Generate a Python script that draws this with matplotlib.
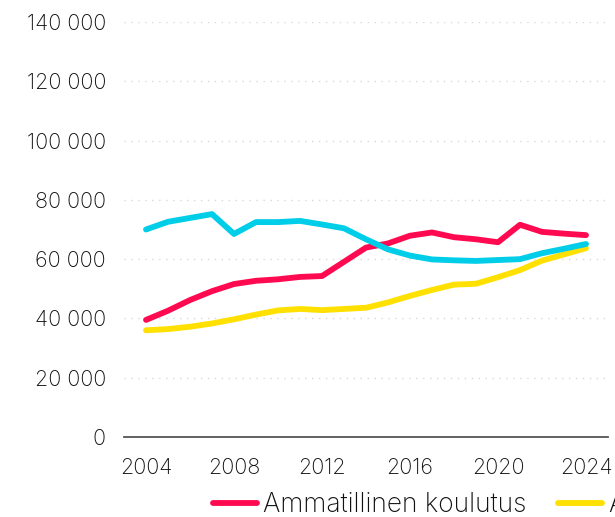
import numpy as np
import matplotlib
matplotlib.use("Agg")
from matplotlib import pyplot as plt

# data
years = list(range(2004, 2025))
ammatillinen = [39500, 42600, 46200, 49200, 51600, 52700, 53200, 54000, 54300, 59100,
                63900, 65300, 67900, 69000, 67400, 66700, 65700, 71600, 69200, 68600, 68100]
amk = [36000, 36400, 37200, 38300, 39700, 41300, 42700, 43200, 42800, 43200,
       43600, 45400, 47600, 49600, 51400, 51700, 53900, 56300, 59500, 61600, 63700]
yliopisto = [70000, 72600, 73900, 75200, 68500, 72500, 72500, 72900, 71700, 70400,
             66700, 63300, 61200, 59900, 59600, 59400, 59700, 60000, 62000, 63500, 65100]

labels = ["Ammatillinen koulutus", "Ammattikorkeakoulu", "Yliopisto"]
colors = ["#ff0a50", "#ffe000", "#00cde8"]
y_ticks = [0, 20000, 40000, 60000, 80000, 100000, 120000, 140000]
x_ticks = [2004, 2008, 2012, 2016, 2020, 2024]

plt.rcParams['font.family'] = ['Inter', 'DejaVu Sans']
plt.rcParams['font.weight'] = 'light'

fig = plt.figure(figsize=(6.15, 5.17), dpi=100)
ax = fig.add_axes([124/615, 1-437/517, (608-124)/615, (437-22)/517])

lines = []
for vals, col, lab in zip([ammatillinen, amk, yliopisto], colors, labels):
    ln, = ax.plot(years, vals, color=col, lw=4.2, solid_capstyle='round',
                  solid_joinstyle='round', label=lab, clip_on=False)
    lines.append(ln)
# cyan drawn on top of yellow like in the reference
lines[2].set_zorder(3)

ax.set_xlim(2003, 2025)
ax.set_ylim(0, 140000)
ax.set_yticks(y_ticks)
ax.set_yticklabels([f"{v:,}".replace(",", " ") for v in y_ticks])
ax.set_xticks(x_ticks)
ax.set_xticklabels([str(x) for x in x_ticks])
ax.tick_params(length=0, labelsize=15.5, colors="#111111")
ax.tick_params(axis='y', pad=13)
ax.tick_params(axis='x', pad=15)

for s in ['left', 'right', 'top']:
    ax.spines[s].set_visible(False)
ax.spines['bottom'].set_color("#555555")
ax.spines['bottom'].set_linewidth(1.3)

ax.grid(axis='y', color="#d8d8d8", linestyle=(0, (1, 4)), linewidth=1)
ax.grid(axis='x', visible=False)
ax.set_axisbelow(True)

fig.legend(handles=lines, loc='center left', bbox_to_anchor=(189/615, 1-505/517),
           ncol=3, frameon=False, fontsize=19, handlelength=1.67, handletextpad=0.23,
           columnspacing=1.2, labelcolor="#111111")

fig.savefig("out.png", dpi=100)
